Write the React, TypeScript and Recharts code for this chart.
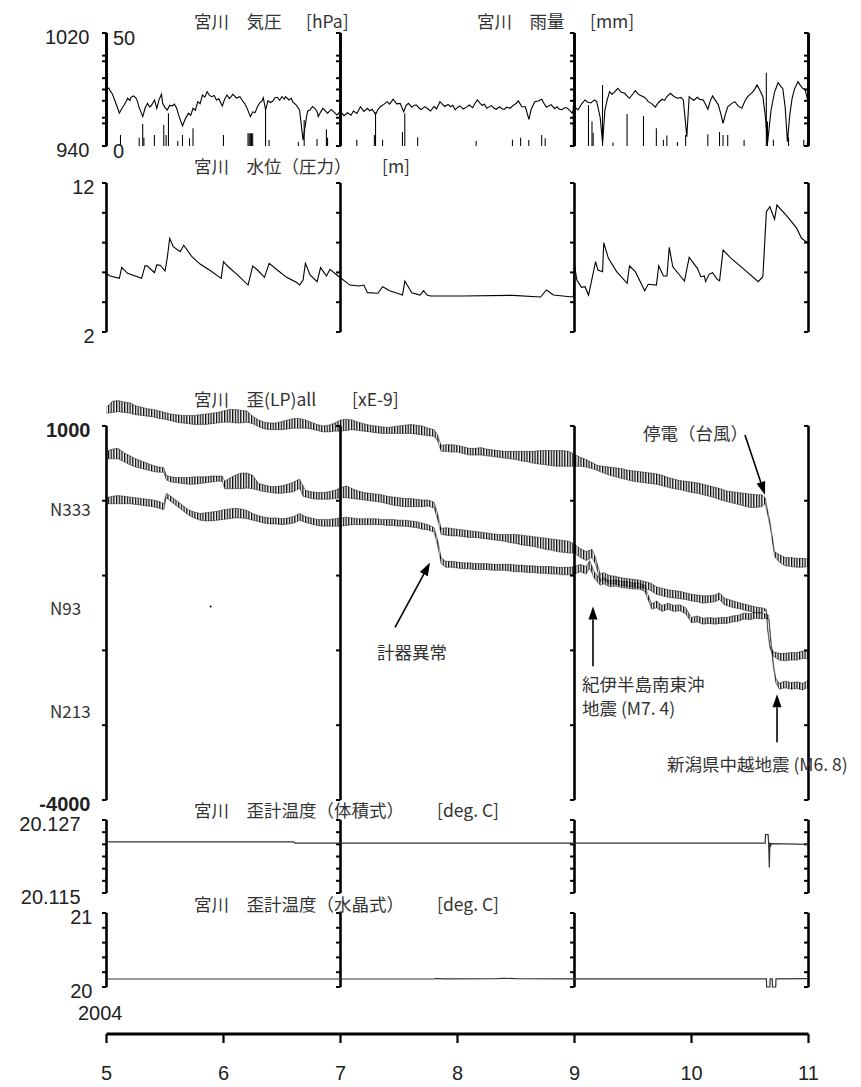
import React from 'react';
import {
  ComposedChart,
  Line,
  Area,
  Bar,
  XAxis,
  YAxis,
  ReferenceLine,
  ReferenceDot,
} from 'recharts';

// ---------- data (x = month of 2004) ----------
const monthTicks = [5, 6, 7, 8, 9, 10, 11];
const weekTicks = [
  5.26, 5.49, 5.72, 6.18, 6.4, 6.63, 6.86, 7.09, 7.32, 7.55, 7.78, 8.01, 8.24,
  8.47, 8.69, 8.92, 9.15, 9.38, 9.61, 9.84, 10.07, 10.3, 10.52, 10.75, 10.98,
];

const pressure: [number, number][] = [
  [5.0, 980.1], [5.02, 981.0], [5.03, 979.2], [5.05, 976.8], [5.07, 972.6], [5.09, 968.0],
  [5.11, 963.2], [5.13, 966.4], [5.15, 969.0], [5.17, 971.9], [5.18, 973.8], [5.2, 972.2],
  [5.21, 974.5], [5.23, 975.4], [5.25, 974.1], [5.26, 972.6], [5.28, 967.0], [5.31, 960.8],
  [5.33, 966.9], [5.35, 970.2], [5.37, 967.6], [5.38, 968.3], [5.4, 971.0], [5.41, 972.6],
  [5.43, 966.7], [5.45, 973.0], [5.47, 976.6], [5.48, 970.2], [5.5, 967.2], [5.52, 965.5],
  [5.54, 968.9], [5.56, 968.3], [5.58, 969.6], [5.6, 966.7], [5.62, 961.0], [5.65, 954.2],
  [5.67, 958.6], [5.7, 963.2], [5.72, 961.8], [5.74, 966.7], [5.76, 965.3], [5.78, 971.4],
  [5.8, 969.9], [5.82, 976.1], [5.84, 974.6], [5.86, 978.5], [5.88, 975.8], [5.9, 974.9],
  [5.92, 975.8], [5.94, 972.6], [5.96, 973.5], [5.99, 968.3], [6.01, 973.2], [6.03, 976.1],
  [6.05, 973.6], [6.06, 974.4], [6.08, 976.6], [6.1, 975.0], [6.11, 973.9], [6.14, 974.9],
  [6.16, 972.4], [6.18, 970.2], [6.2, 967.0], [6.23, 960.8], [6.25, 964.2], [6.27, 963.6],
  [6.29, 967.8], [6.31, 970.6], [6.33, 972.0], [6.34, 974.2], [6.36, 965.5], [6.38, 972.1],
  [6.4, 970.8], [6.42, 971.6], [6.44, 974.2], [6.46, 974.5], [6.48, 972.3], [6.5, 975.0],
  [6.52, 973.2], [6.53, 974.9], [6.56, 972.6], [6.58, 973.8], [6.59, 971.4], [6.62, 969.2],
  [6.65, 965.5], [6.68, 944.2], [6.71, 960.8], [6.72, 964.8], [6.74, 965.5], [6.76, 968.0],
  [6.78, 966.7], [6.8, 964.2], [6.81, 960.8], [6.83, 964.0], [6.85, 966.7], [6.87, 964.8],
  [6.89, 963.2], [6.92, 965.9], [6.94, 964.3], [6.97, 962.0], [7.0, 964.5], [7.03, 961.5],
  [7.06, 963.5], [7.09, 961.8], [7.11, 964.8], [7.14, 963.0], [7.17, 967.8], [7.2, 964.5],
  [7.23, 966.7], [7.25, 964.9], [7.27, 966.0], [7.3, 962.4], [7.32, 965.8], [7.34, 967.8],
  [7.37, 969.5], [7.4, 971.4], [7.42, 969.6], [7.45, 973.1], [7.48, 969.8], [7.51, 970.2],
  [7.54, 964.3], [7.56, 968.6], [7.58, 970.2], [7.61, 967.5], [7.63, 968.9], [7.65, 969.0],
  [7.67, 966.9], [7.69, 965.8], [7.72, 967.9], [7.74, 966.7], [7.77, 964.8], [7.8, 968.0],
  [7.82, 966.2], [7.85, 971.4], [7.87, 969.7], [7.89, 968.0], [7.92, 969.4], [7.94, 967.8],
  [7.96, 968.9], [7.98, 965.6], [8.0, 967.3], [8.02, 968.4], [8.05, 966.2], [8.08, 967.7],
  [8.1, 969.0], [8.13, 967.1], [8.15, 970.3], [8.17, 972.6], [8.19, 970.5], [8.21, 968.8],
  [8.23, 969.6], [8.25, 966.7], [8.27, 967.7], [8.29, 968.6], [8.31, 966.9], [8.33, 966.0],
  [8.36, 967.8], [8.38, 966.3], [8.4, 965.9], [8.42, 967.5], [8.45, 966.7], [8.48, 968.9],
  [8.5, 970.1], [8.52, 971.9], [8.55, 967.8], [8.58, 967.8], [8.61, 958.9], [8.63, 966.0],
  [8.66, 971.4], [8.69, 971.9], [8.72, 973.1], [8.74, 970.1], [8.76, 967.5], [8.78, 968.4],
  [8.8, 969.2], [8.83, 966.4], [8.85, 967.8], [8.87, 966.1], [8.89, 965.7], [8.92, 967.2],
  [8.94, 966.7], [8.96, 965.0], [8.98, 963.2], [9.0, 967.8], [9.03, 965.5], [9.06, 969.7],
  [9.09, 972.6], [9.11, 971.2], [9.14, 970.5], [9.17, 972.6], [9.19, 971.4], [9.22, 960.0],
  [9.24, 941.9], [9.26, 965.5], [9.28, 972.9], [9.3, 978.5], [9.32, 976.6], [9.34, 977.9],
  [9.37, 980.8], [9.4, 978.0], [9.43, 977.3], [9.45, 975.3], [9.47, 973.8], [9.5, 977.0],
  [9.52, 979.2], [9.54, 977.1], [9.56, 976.0], [9.59, 974.9], [9.61, 973.6], [9.63, 971.4],
  [9.66, 970.0], [9.69, 967.5], [9.72, 971.0], [9.75, 973.1], [9.77, 972.3], [9.79, 975.0],
  [9.82, 977.3], [9.85, 975.1], [9.88, 973.8], [9.91, 974.4], [9.93, 972.6], [9.96, 946.6],
  [9.98, 974.9], [10.0, 973.4], [10.02, 972.4], [10.05, 974.5], [10.07, 973.0], [10.1, 972.6],
  [10.12, 969.4], [10.14, 966.0], [10.16, 971.8], [10.18, 975.4], [10.2, 972.8], [10.23, 969.0],
  [10.25, 962.9], [10.27, 956.1], [10.29, 962.6], [10.31, 967.8], [10.34, 969.8], [10.37, 971.4],
  [10.4, 968.2], [10.43, 966.7], [10.46, 972.4], [10.48, 974.9], [10.5, 976.6], [10.52, 978.0],
  [10.54, 980.1], [10.56, 983.2], [10.58, 980.2], [10.61, 974.9], [10.63, 962.0], [10.65, 941.9],
  [10.68, 965.5], [10.71, 978.2], [10.74, 984.8], [10.76, 982.6], [10.78, 980.8], [10.8, 968.0],
  [10.82, 943.0], [10.84, 962.0], [10.86, 973.8], [10.88, 980.3], [10.91, 985.5], [10.93, 982.9],
  [10.95, 980.8], [10.97, 980.2], [11.0, 970.2],
];

const rain: [number, number][] = [
  [5.12, 4.9], [5.28, 3.7], [5.31, 9.7], [5.32, 3.7], [5.41, 4.9], [5.49, 9.3], [5.51, 4.9],
  [5.53, 14.5], [5.61, 2.2], [5.65, 4.9], [5.71, 3.4], [5.74, 7.8], [6.0, 4.9], [6.21, 5.6],
  [6.22, 5.6], [6.23, 5.6], [6.24, 5.6], [6.25, 5.6], [6.36, 15.9], [6.39, 2.7], [6.64, 1.8],
  [6.69, 11.5], [6.8, 3.1], [6.88, 7.4], [6.89, 3.7], [7.14, 2.8], [7.29, 4.9], [7.3, 14.8],
  [7.36, 2.8], [7.53, 6.2], [7.55, 14.5], [7.66, 3.9], [8.16, 2.2], [8.47, 2.8], [8.54, 3.7],
  [8.61, 2.7], [8.72, 4.9], [8.75, 3.4], [8.99, 18.1], [9.0, 11.5], [9.12, 18.1], [9.15, 10.8],
  [9.16, 5.9], [9.24, 27.0], [9.33, 1.5], [9.45, 14.2], [9.59, 13.3], [9.7, 7.8], [9.76, 2.8],
  [9.79, 4.6], [9.88, 1.8], [9.95, 4.9], [10.14, 5.2], [10.24, 6.2], [10.27, 4.9], [10.31, 4.9],
  [10.45, 2.7], [10.64, 32.4], [10.65, 10.8], [10.7, 2.8], [10.83, 3.9], [10.96, 2.8], [10.99, 1.8],
];

const waterLevel: [number, number][] = [
  [5.0, 5.94], [5.03, 5.76], [5.11, 5.6], [5.13, 6.34], [5.18, 5.94], [5.3, 5.6], [5.33, 6.45],
  [5.35, 6.43], [5.41, 5.98], [5.43, 6.5], [5.46, 6.48], [5.5, 6.09], [5.52, 7.01], [5.54, 8.29],
  [5.57, 7.73], [5.63, 7.39], [5.66, 7.82], [5.73, 7.05], [5.8, 6.56], [5.88, 6.16], [5.98, 5.6],
  [6.0, 6.72], [6.04, 6.38], [6.12, 5.83], [6.21, 5.15], [6.25, 6.43], [6.29, 6.16], [6.35, 5.67],
  [6.39, 6.61], [6.46, 6.16], [6.54, 5.67], [6.63, 5.31], [6.65, 5.15], [6.68, 5.49], [6.7, 6.61],
  [6.74, 5.83], [6.8, 5.38], [6.83, 6.32], [6.88, 5.76], [6.91, 6.21], [6.98, 5.76], [7.08, 5.15],
  [7.16, 5.09], [7.2, 5.15], [7.23, 4.64], [7.32, 4.6], [7.36, 5.04], [7.42, 4.77], [7.53, 4.48],
  [7.55, 5.42], [7.61, 4.64], [7.68, 4.48], [7.71, 4.77], [7.74, 4.48], [7.77, 4.42], [8.05, 4.42],
  [8.47, 4.46], [8.71, 4.35], [8.76, 4.82], [8.82, 4.48], [8.96, 4.37], [8.99, 4.37], [9.0, 6.5],
  [9.02, 5.49], [9.06, 5.0], [9.09, 5.04], [9.12, 4.48], [9.18, 6.72], [9.2, 6.16], [9.24, 6.05],
  [9.25, 7.99], [9.29, 6.94], [9.36, 6.05], [9.45, 5.27], [9.47, 6.43], [9.52, 6.05], [9.6, 4.77],
  [9.63, 5.2], [9.7, 5.15], [9.72, 6.45], [9.76, 5.76], [9.79, 5.76], [9.81, 7.68], [9.84, 6.38],
  [9.94, 5.42], [9.98, 7.01], [10.05, 6.27], [10.08, 5.71], [10.11, 5.76], [10.12, 5.38],
  [10.15, 5.87], [10.18, 5.98], [10.22, 5.53], [10.24, 5.44], [10.27, 7.5], [10.33, 7.01],
  [10.44, 6.27], [10.57, 5.38], [10.61, 5.71], [10.64, 10.07], [10.67, 10.41], [10.71, 9.56],
  [10.73, 10.52], [10.82, 9.74], [10.9, 8.96], [10.94, 8.29], [11.0, 7.95],
];

// strain: [month, low, high] of the tidal band of each component
const strainA: [number, number, number][] = [
  [5.0, 1170, 1250], [5.05, 1180, 1330], [5.1, 1190, 1340], [5.15, 1180, 1320], [5.2, 1170, 1310],
  [5.25, 1150, 1270], [5.3, 1140, 1250], [5.35, 1130, 1230], [5.4, 1120, 1220], [5.45, 1100, 1200],
  [5.5, 1090, 1180], [5.55, 1070, 1160], [5.6, 1050, 1150], [5.65, 1040, 1140], [5.7, 1030, 1140],
  [5.75, 1020, 1140], [5.8, 1020, 1150], [5.85, 1020, 1160], [5.9, 1030, 1170], [5.95, 1040, 1180],
  [6.0, 1050, 1200], [6.05, 1050, 1220], [6.1, 1040, 1220], [6.15, 1040, 1210], [6.2, 1050, 1200],
  [6.25, 1030, 1130], [6.3, 990, 1080], [6.35, 960, 1050], [6.4, 950, 1040], [6.45, 950, 1040],
  [6.5, 950, 1060], [6.55, 960, 1080], [6.6, 970, 1100], [6.65, 970, 1100], [6.7, 970, 1080],
  [6.75, 960, 1050], [6.8, 940, 1020], [6.85, 920, 1000], [6.9, 920, 1010], [6.95, 930, 1040],
  [7.0, 930, 1080], [7.05, 940, 1090], [7.1, 950, 1080], [7.15, 940, 1050], [7.2, 930, 1030],
  [7.25, 920, 1010], [7.3, 910, 1000], [7.35, 900, 990], [7.4, 900, 980], [7.45, 900, 990],
  [7.5, 900, 1000], [7.55, 900, 1010], [7.6, 900, 1020], [7.65, 890, 1010], [7.7, 880, 1000],
  [7.75, 870, 970], [7.8, 860, 950], [7.83, 800, 880], [7.86, 660, 740], [7.9, 660, 750],
  [7.95, 650, 750], [8.0, 650, 740], [8.05, 630, 720], [8.1, 610, 700], [8.15, 610, 700],
  [8.2, 610, 710], [8.25, 600, 690], [8.3, 590, 680], [8.35, 580, 670], [8.4, 570, 660],
  [8.45, 560, 660], [8.5, 550, 660], [8.55, 530, 660], [8.6, 520, 660], [8.65, 500, 660],
  [8.7, 490, 670], [8.75, 480, 670], [8.8, 470, 670], [8.85, 460, 670], [8.9, 460, 670],
  [8.95, 460, 660], [9.0, 460, 620], [9.05, 460, 580], [9.1, 450, 550], [9.15, 430, 510],
  [9.2, 400, 470], [9.25, 370, 460], [9.3, 340, 450], [9.35, 320, 440], [9.4, 300, 430],
  [9.45, 280, 410], [9.5, 260, 400], [9.55, 250, 390], [9.6, 240, 380], [9.65, 230, 370],
  [9.7, 220, 360], [9.75, 200, 340], [9.8, 180, 310], [9.85, 160, 290], [9.9, 150, 270],
  [9.95, 130, 260], [10.0, 110, 250], [10.05, 100, 240], [10.1, 80, 220], [10.15, 60, 200],
  [10.2, 40, 180], [10.25, 10, 160], [10.3, -10, 130], [10.35, -30, 120], [10.4, -50, 110],
  [10.45, -70, 100], [10.5, -90, 90], [10.55, -90, 80], [10.6, -80, 80], [10.63, -40, 40],
  [10.65, -180, -120], [10.67, -330, -270], [10.69, -530, -470], [10.71, -750, -680],
  [10.75, -820, -720], [10.8, -870, -760], [10.85, -880, -760], [10.9, -890, -770],
  [10.95, -890, -770], [11.0, -880, -780],
];

const strainB: [number, number, number][] = [
  [5.0, 560, 660], [5.05, 560, 690], [5.1, 560, 700], [5.15, 520, 640], [5.2, 480, 600],
  [5.25, 450, 560], [5.3, 430, 530], [5.35, 410, 500], [5.4, 390, 470], [5.45, 380, 450],
  [5.49, 380, 440], [5.51, 280, 340], [5.55, 250, 320], [5.6, 240, 310], [5.65, 230, 310],
  [5.7, 220, 310], [5.75, 220, 320], [5.8, 230, 320], [5.85, 240, 320], [5.9, 250, 330],
  [5.95, 260, 330], [5.99, 260, 330], [6.01, 160, 260], [6.05, 160, 300], [6.1, 160, 340],
  [6.15, 160, 370], [6.2, 170, 370], [6.25, 160, 340], [6.3, 140, 230], [6.35, 120, 210],
  [6.4, 110, 190], [6.45, 100, 190], [6.5, 100, 200], [6.55, 110, 220], [6.6, 120, 250],
  [6.65, 170, 290], [6.68, 60, 200], [6.7, 50, 140], [6.75, 30, 120], [6.8, 20, 110],
  [6.85, 20, 110], [6.9, 20, 120], [6.95, 30, 140], [7.0, 40, 170], [7.05, 40, 200],
  [7.1, 30, 160], [7.15, 20, 130], [7.2, 10, 110], [7.25, 0, 100], [7.3, -10, 90],
  [7.35, -20, 80], [7.4, -40, 60], [7.45, -60, 50], [7.5, -70, 40], [7.55, -80, 30],
  [7.6, -80, 30], [7.65, -80, 20], [7.7, -80, 10], [7.75, -70, 10], [7.8, -100, -20],
  [7.83, -250, -170], [7.86, -450, -370], [7.9, -460, -360], [7.95, -470, -370], [8.0, -470, -380],
  [8.05, -480, -390], [8.1, -490, -400], [8.15, -490, -410], [8.2, -500, -420], [8.25, -510, -430],
  [8.3, -520, -440], [8.35, -530, -450], [8.4, -540, -450], [8.45, -560, -450], [8.5, -570, -450],
  [8.55, -590, -460], [8.6, -600, -470], [8.65, -610, -480], [8.7, -630, -490], [8.75, -650, -500],
  [8.8, -660, -510], [8.85, -680, -520], [8.9, -690, -530], [8.95, -700, -540], [9.0, -700, -580],
  [9.05, -760, -640], [9.1, -800, -680], [9.15, -760, -650], [9.18, -850, -760], [9.22, -1080, -980],
  [9.25, -1060, -960], [9.3, -1110, -1000], [9.35, -1110, -1010], [9.4, -1130, -1030],
  [9.45, -1140, -1040], [9.5, -1150, -1050], [9.55, -1160, -1060], [9.6, -1170, -1080],
  [9.65, -1200, -1100], [9.7, -1250, -1150], [9.75, -1270, -1170], [9.8, -1290, -1190],
  [9.85, -1300, -1200], [9.9, -1310, -1210], [9.95, -1320, -1230], [10.0, -1340, -1250],
  [10.05, -1350, -1260], [10.1, -1370, -1270], [10.15, -1360, -1270], [10.2, -1350, -1260],
  [10.24, -1320, -1230], [10.28, -1390, -1300], [10.32, -1410, -1320], [10.36, -1430, -1340],
  [10.4, -1440, -1360], [10.45, -1460, -1380], [10.5, -1480, -1400], [10.55, -1500, -1420],
  [10.6, -1500, -1430], [10.62, -1470, -1440], [10.64, -1480, -1450], [10.65, -1720, -1680],
  [10.67, -1970, -1930], [10.7, -2080, -2020], [10.75, -2130, -2040], [10.8, -2140, -2040],
  [10.85, -2130, -2030], [10.9, -2130, -2030], [10.95, -2110, -2010], [11.0, -2110, -2020],
];

const strainC: [number, number, number][] = [
  [5.0, -40, 40], [5.05, -40, 60], [5.1, -40, 70], [5.15, -40, 60], [5.2, -40, 50],
  [5.25, -50, 40], [5.3, -60, 30], [5.35, -70, 20], [5.4, -80, 10], [5.45, -100, -10],
  [5.49, -120, -40], [5.51, 40, 100], [5.55, -10, 60], [5.6, -70, 0], [5.65, -130, -60],
  [5.7, -190, -120], [5.75, -230, -150], [5.8, -260, -170], [5.85, -270, -160], [5.9, -270, -150],
  [5.95, -260, -140], [6.0, -250, -120], [6.05, -240, -110], [6.1, -230, -100], [6.15, -230, -110],
  [6.2, -240, -130], [6.25, -260, -170], [6.3, -280, -200], [6.35, -300, -220], [6.4, -310, -230],
  [6.45, -310, -230], [6.5, -320, -240], [6.55, -310, -230], [6.6, -300, -210], [6.65, -260, -170],
  [6.7, -290, -210], [6.75, -310, -230], [6.8, -330, -250], [6.85, -340, -250], [6.9, -340, -250],
  [6.95, -340, -240], [7.0, -340, -230], [7.05, -330, -220], [7.1, -320, -230], [7.15, -320, -240],
  [7.2, -320, -240], [7.25, -320, -240], [7.3, -320, -240], [7.35, -320, -250], [7.4, -330, -250],
  [7.45, -330, -250], [7.5, -340, -260], [7.55, -340, -260], [7.6, -350, -270], [7.65, -360, -280],
  [7.7, -380, -300], [7.75, -390, -320], [7.8, -420, -360], [7.83, -600, -520], [7.86, -840, -760],
  [7.9, -890, -810], [7.95, -890, -810], [8.0, -900, -820], [8.05, -910, -830], [8.1, -910, -830],
  [8.15, -920, -840], [8.2, -920, -840], [8.25, -920, -840], [8.3, -930, -850], [8.35, -930, -850],
  [8.4, -930, -850], [8.45, -940, -850], [8.5, -950, -860], [8.55, -950, -860], [8.6, -960, -870],
  [8.65, -960, -870], [8.7, -970, -880], [8.75, -970, -880], [8.8, -980, -880], [8.85, -980, -890],
  [8.9, -990, -890], [8.95, -990, -890], [9.0, -980, -880], [9.05, -950, -850], [9.1, -980, -880],
  [9.13, -900, -800], [9.17, -1040, -950], [9.22, -1130, -1050], [9.25, -1110, -1030],
  [9.3, -1150, -1070], [9.35, -1140, -1060], [9.4, -1160, -1080], [9.45, -1170, -1080],
  [9.5, -1180, -1100], [9.55, -1180, -1100], [9.6, -1210, -1130], [9.63, -1330, -1260],
  [9.66, -1450, -1380], [9.7, -1430, -1340], [9.75, -1480, -1400], [9.8, -1450, -1370],
  [9.85, -1480, -1400], [9.9, -1470, -1390], [9.95, -1510, -1430], [10.0, -1630, -1560],
  [10.05, -1620, -1540], [10.1, -1650, -1570], [10.15, -1640, -1560], [10.2, -1650, -1570],
  [10.25, -1640, -1560], [10.3, -1640, -1560], [10.35, -1620, -1540], [10.4, -1610, -1530],
  [10.45, -1580, -1500], [10.5, -1590, -1510], [10.55, -1570, -1490], [10.6, -1580, -1500],
  [10.63, -1570, -1510], [10.66, -1590, -1530], [10.68, -1930, -1870], [10.7, -2230, -2170],
  [10.72, -2430, -2370], [10.75, -2520, -2440], [10.8, -2500, -2410], [10.85, -2520, -2430],
  [10.9, -2510, -2420], [10.95, -2530, -2440], [11.0, -2490, -2400],
];

const tempVolume: [number, number][] = [
  [5.0, 20.1234], [6.6, 20.1234], [6.61, 20.1232], [10.63, 20.1232], [10.632, 20.1246],
  [10.655, 20.1246], [10.66, 20.1228], [10.665, 20.1192], [10.67, 20.1233], [10.675, 20.1226],
  [10.68, 20.1231], [11.0, 20.123],
];

const tempCrystal: [number, number][] = [
  [5.0, 20.108], [7.8, 20.108], [7.81, 20.114], [7.9, 20.11], [8.34, 20.112], [8.4, 20.118],
  [8.5, 20.112], [9.0, 20.11], [10.64, 20.11], [10.642, 20.0], [10.67, 20.0], [10.672, 20.11],
  [10.69, 20.11], [10.692, 20.0], [10.72, 20.0], [10.722, 20.11], [11.0, 20.112],
];

const pressureTicks = [940, 960, 980, 1000, 1020];
const rainTicks = [0, 10, 20, 30, 40, 50];
const waterTicks = [2, 4, 6, 8, 10, 12];
const strainTicks = [-4000, -3000, -2000, -1000, 0, 1000];
const tempVolumeTicks = [20.115, 20.117, 20.119, 20.121, 20.123, 20.125, 20.127];
const tempCrystalTicks = [20, 20.2, 20.4, 20.6, 20.8, 21];

const arrows = [
  { from: [10.457, 880], to: [10.628, 80] },
  { from: [7.466, -1693], to: [7.765, -827] },
  { from: [9.158, -2213], to: [9.158, -1413] },
  { from: [10.731, -3227], to: [10.731, -2587] },
];
const strayMark = { m: 5.89, v: -1413 };

// ---------- layout ----------
const W = 853;
const PLOT_LEFT = 98.5;
const PLOT_W = 702;
const YW = 40;
const FRAME_X = [5, 7, 9, 11];
const TICK_DX = 0.038;
const NUM_FONT = 'Liberation Sans, Arial, sans-serif';
const JP_FONT = '"Noto Sans CJK JP", "Noto Sans CJK SC", sans-serif';

const rows = (a: [number, number][]) => a.map(([m, v]) => ({ m, v }));
const bands = (a: [number, number, number][]) => a.map(([m, lo, hi]) => ({ m, r: [lo, hi] }));
const margin = (top: number, bottom: number) => ({
  top,
  bottom,
  left: PLOT_LEFT - YW,
  right: W - PLOT_LEFT - PLOT_W,
});

// bracket-like frame lines at each second month, ticks pointing left
function frame(id: string, lo: number, hi: number, ticks: number[]) {
  const out: React.ReactNode[] = [];
  FRAME_X.forEach((x) => {
    out.push(
      <ReferenceLine
        key={`${id}-v-${x}`}
        yAxisId={id}
        segment={[{ x, y: lo }, { x, y: hi }]}
        stroke="#000"
        strokeWidth={2.6}
        ifOverflow="visible"
      />
    );
    ticks.forEach((t) =>
      out.push(
        <ReferenceLine
          key={`${id}-t-${x}-${t}`}
          yAxisId={id}
          segment={[{ x: x - TICK_DX, y: t }, { x, y: t }]}
          stroke="#000"
          strokeWidth={2}
          ifOverflow="visible"
        />
      )
    );
  });
  return out;
}

const leftTick = (gap: number, digits = 0, bold = false) => (p: any) => (
  <text
    x={PLOT_LEFT - gap}
    y={p.y + 4}
    dy="0.36em"
    textAnchor="end"
    fontSize={20}
    fontFamily={NUM_FONT}
    fontWeight={bold ? 700 : 400}
    fill="#222"
  >
    {Number(p.payload.value).toFixed(digits)}
  </text>
);

const rainTick = (p: any) => (
  <text
    x={PLOT_LEFT + 6.5}
    y={p.y + 5}
    dy="0.36em"
    textAnchor="start"
    fontSize={20}
    fontFamily={NUM_FONT}
    fill="#222"
  >
    {p.payload.value}
  </text>
);

const bottomTick = (p: any) => (
  <text x={p.x} y={p.y} dy={35} textAnchor="middle" fontSize={20} fontFamily={NUM_FONT} fill="#222">
    {p.payload.value}
  </text>
);

function ArrowShape(p: any) {
  const { x1, y1, x2, y2 } = p;
  const ang = Math.atan2(y2 - y1, x2 - x1);
  const L = 13;
  const hw = 4.5;
  const bx = x2 - L * Math.cos(ang);
  const by = y2 - L * Math.sin(ang);
  const px = -Math.sin(ang) * hw;
  const py = Math.cos(ang) * hw;
  return (
    <g>
      <line x1={x1} y1={y1} x2={bx} y2={by} stroke="#000" strokeWidth={1.6} />
      <polygon points={`${x2},${y2} ${bx + px},${by + py} ${bx - px},${by - py}`} fill="#000" />
    </g>
  );
}

function Panel({ top, height, mTop, mBottom, data, children }: any) {
  return (
    <div style={{ position: 'absolute', left: 0, top }}>
      <ComposedChart width={W} height={height} margin={margin(mTop, mBottom)} data={data}>
        <XAxis type="number" dataKey="m" domain={[5, 11]} hide />
        {children}
      </ComposedChart>
    </div>
  );
}

const titles = [
  { x: 186, y: 12, t: '宮川　気圧', u: '[hPa]', ux: 298 },
  { x: 469, y: 12, t: '宮川　雨量', u: '[mm]', ux: 582 },
  { x: 186, y: 157, t: '宮川　水位（圧力）', u: '[m]', ux: 374 },
  { x: 186, y: 390, t: '宮川　歪(LP)all', u: '[xE-9]', ux: 344 },
  { x: 186, y: 801, t: '宮川　歪計温度（体積式）', u: '[deg. C]', ux: 429 },
  { x: 186, y: 895, t: '宮川　歪計温度（水晶式）', u: '[deg. C]', ux: 429 },
];
const sideLabels = [
  { x: 42, y: 500, t: 'N333' },
  { x: 42, y: 599, t: 'N93' },
  { x: 42, y: 702, t: 'N213' },
];
const notes = [
  { x: 635, y: 424, t: '停電（台風）' },
  { x: 369, y: 643, t: '計器異常' },
  { x: 574, y: 675, t: '紀伊半島南東沖' },
  { x: 574, y: 699, t: '地震 (M7. 4)' },
  { x: 659, y: 755, t: '新潟県中越地震 (M6. 8)' },
];

const strainSeries = [strainA, strainB, strainC];

export default function App() {
  return (
    <div style={{ position: 'relative', width: W, height: 1079, background: '#fff' }}>
      {/* dense tidal oscillation texture used to fill the strain bands */}
      <svg width={0} height={0} style={{ position: 'absolute' }}>
        <defs>
          <pattern id="tide" patternUnits="userSpaceOnUse" width={2.7} height={20}>
            <rect x={0} y={0} width={1.25} height={20} fill="#000" />
          </pattern>
        </defs>
      </svg>

      {/* pressure + rain */}
      <Panel top={0} height={175} mTop={25} mBottom={37} data={rows(rain)}>
        <YAxis yAxisId="p" domain={[940, 1020]} ticks={[940, 1020]} width={YW} axisLine={false} tickLine={false} tick={leftTick(17)} />
        <YAxis yAxisId="rain" mirror domain={[0, 50]} ticks={[0, 50]} width={YW} axisLine={false} tickLine={false} tick={rainTick} />
        {frame('p', 940, 1020, pressureTicks)}
        {frame('rain', 0, 50, rainTicks)}
        <Bar yAxisId="rain" dataKey="v" fill="#000" barSize={2} isAnimationActive={false} />
        <Line yAxisId="p" data={rows(pressure)} dataKey="v" stroke="#000" strokeWidth={1.1} dot={false} isAnimationActive={false} />
      </Panel>

      {/* water level */}
      <Panel top={160} height={195} mTop={15} mBottom={31}>
        <YAxis yAxisId="w" domain={[2, 12]} ticks={[2, 12]} width={YW} axisLine={false} tickLine={false} tick={leftTick(12)} />
        {frame('w', 2, 12, waterTicks)}
        <Line yAxisId="w" data={rows(waterLevel)} dataKey="v" stroke="#000" strokeWidth={1.1} dot={false} isAnimationActive={false} />
      </Panel>

      {/* strain */}
      <Panel top={370} height={450} mTop={18} mBottom={28}>
        <YAxis yAxisId="s" domain={[-4000, 1400]} ticks={[-4000, 1000]} width={YW} axisLine={false} tickLine={false} tick={leftTick(16, 0, true)} />
        {frame('s', -4000, 1000, strainTicks)}
        {strainSeries.map((s, i) => (
          <Area
            key={`strain-${i}`}
            yAxisId="s"
            data={bands(s)}
            dataKey="r"
            type="linear"
            stroke="#000"
            strokeWidth={0.6}
            strokeOpacity={0.7}
            fill="url(#tide)"
            fillOpacity={1}
            dot={false}
            isAnimationActive={false}
          />
        ))}
        <ReferenceDot yAxisId="s" x={strayMark.m} y={strayMark.v} r={1} fill="#000" stroke="none" />
        {arrows.map((a, i) => (
          <ReferenceLine
            key={`arrow-${i}`}
            yAxisId="s"
            segment={[{ x: a.from[0], y: a.from[1] }, { x: a.to[0], y: a.to[1] }]}
            ifOverflow="visible"
            shape={ArrowShape}
          />
        ))}
      </Panel>

      {/* strain-meter temperature (volume type) */}
      <Panel top={800} height={115} mTop={12} mBottom={30}>
        <YAxis yAxisId="tv" domain={[20.115, 20.127]} ticks={[20.115, 20.127]} width={YW} axisLine={false} tickLine={false} tick={leftTick(26, 3)} />
        {frame('tv', 20.115, 20.127, tempVolumeTicks)}
        <Line yAxisId="tv" data={rows(tempVolume)} dataKey="v" stroke="#333" strokeWidth={1.2} dot={false} isAnimationActive={false} />
      </Panel>

      {/* strain-meter temperature (crystal type) */}
      <Panel top={895} height={110} mTop={10} mBottom={26}>
        <YAxis yAxisId="tc" domain={[20, 21]} ticks={[20, 21]} width={YW} axisLine={false} tickLine={false} tick={leftTick(14)} />
        {frame('tc', 20, 21, tempCrystalTicks)}
        <Line yAxisId="tc" data={rows(tempCrystal)} dataKey="v" stroke="#333" strokeWidth={1.2} dot={false} isAnimationActive={false} />
      </Panel>

      {/* month axis */}
      <div style={{ position: 'absolute', left: 0, top: 990 }}>
        <ComposedChart
          width={W}
          height={90}
          margin={{ top: 10, bottom: 0, left: PLOT_LEFT, right: W - PLOT_LEFT - PLOT_W }}
          data={weekTicks.map((m) => ({ m }))}
        >
          <XAxis
            type="number"
            dataKey="m"
            domain={[5, 11]}
            ticks={monthTicks}
            interval={0}
            height={54}
            tickSize={9}
            axisLine={{ stroke: '#000', strokeWidth: 3 }}
            tickLine={{ stroke: '#000', strokeWidth: 2.2 }}
            tick={bottomTick}
          />
          <YAxis yAxisId="b" hide domain={[0, 1]} />
          {weekTicks.map((t) => (
            <ReferenceLine key={`wk-${t}`} yAxisId="b" segment={[{ x: t, y: 0 }, { x: t, y: -0.17 }]} stroke="#000" strokeWidth={2} ifOverflow="visible" />
          ))}
          <ReferenceLine yAxisId="b" segment={[{ x: 5, y: 0 }, { x: 5, y: 0.32 }]} stroke="#000" strokeWidth={2.2} ifOverflow="visible" />
        </ComposedChart>
      </div>

      {/* texts */}
      <svg width={W} height={1079} style={{ position: 'absolute', left: 0, top: 0, pointerEvents: 'none' }}>
        {titles.map((d) => (
          <g key={d.t} fontFamily={JP_FONT} fontSize={17.5} fill="#333">
            <text x={d.x} y={d.y} dominantBaseline="central">{d.t}</text>
            <text x={d.ux} y={d.y} dominantBaseline="central">{d.u}</text>
          </g>
        ))}
        {sideLabels.map((d) => (
          <text key={d.t} x={d.x} y={d.y} dominantBaseline="central" fontFamily={JP_FONT} fontSize={17} fill="#333">
            {d.t}
          </text>
        ))}
        {notes.map((d) => (
          <text key={d.t} x={d.x} y={d.y} dominantBaseline="central" fontFamily={JP_FONT} fontSize={17.5} fill="#333">
            {d.t}
          </text>
        ))}
        <text x={70} y={1005} dominantBaseline="central" fontFamily={NUM_FONT} fontSize={20} fill="#222">
          2004
        </text>
      </svg>
    </div>
  );
}
